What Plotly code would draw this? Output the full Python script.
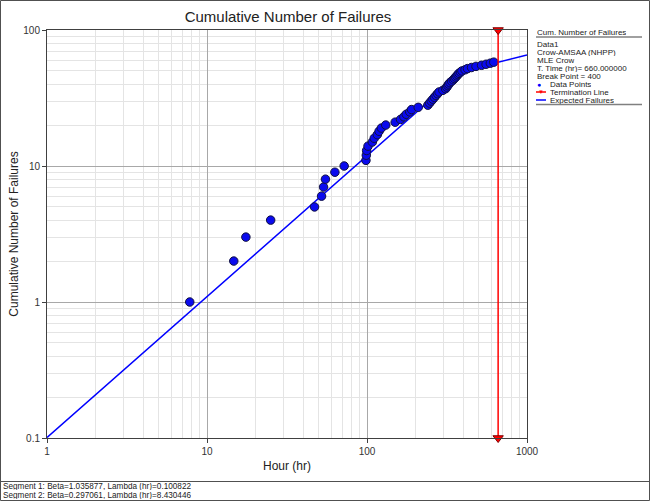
import plotly.graph_objects as go

# ---- data ----
fail_times = [7.8, 14.7, 17.5, 25, 47, 52, 53.5, 55, 63, 72,
              98.5, 99, 99.5, 101.5, 108, 111, 116, 119, 123, 131,
              150, 162, 170, 176, 185, 190, 209, 240, 246, 252,
              258, 264, 270, 276, 282, 298, 310, 315, 320, 324,
              330, 338, 346, 352, 358, 364, 370, 376, 384, 392,
              410, 425, 450, 480, 520, 555, 590, 620]
cum_failures = list(range(1, len(fail_times) + 1))

seg1_beta, seg1_lambda = 1.035877, 0.100822
seg2_beta, seg2_lambda = 0.297061, 8.430446
break_point = 400
line_times = [1, 400, 1000]
term_time = 660
y_range = [0.1, 100]

expected = [seg1_lambda * t ** seg1_beta if t <= break_point else seg2_lambda * t ** seg2_beta
            for t in line_times]

FONT = "Liberation Sans"
W, H = 650, 501
L, R, T, B = 47, 527, 30, 438

def px(x):
    return (x - L) / (R - L)

def py(y):
    return (B - y) / (B - T)

fig = go.Figure()
fig.add_trace(go.Scatter(x=line_times, y=expected, mode="lines",
                         line=dict(color="#0000ff", width=1.5), showlegend=False))
fig.add_trace(go.Scatter(x=fail_times, y=cum_failures, mode="markers",
                         marker=dict(color="#0a0aee", size=8.5, line=dict(color="#101040", width=1)),
                         showlegend=False))
fig.add_trace(go.Scatter(x=[term_time, term_time], y=y_range, mode="lines+markers",
                         line=dict(color="#ff0000", width=1.5),
                         marker=dict(symbol="triangle-down", size=9, color="#ff0000",
                                     line=dict(color="#800000", width=1)),
                         cliponaxis=False, showlegend=False))

axis_common = dict(type="log", showline=True, linecolor="#404040", linewidth=1, mirror=True,
                   ticks="outside", ticklen=4, tickcolor="#404040",
                   showgrid=True, gridcolor="#a8a8a8", gridwidth=1,
                   minor=dict(showgrid=True, gridcolor="#e4e4e4", dtick="D1", ticks=""),
                   tickfont=dict(family=FONT, size=10, color="#333333"),
                   zeroline=False, dtick=1, automargin=False)

fig.update_xaxes(range=[0, 3], title=dict(text="Hour (hr)", font=dict(family=FONT, size=12, color="#222"),
                                          standoff=5), **axis_common)
fig.update_yaxes(range=[-1, 2], title=dict(text="Cumulative Number of Failures",
                                           font=dict(family=FONT, size=12, color="#222"), standoff=2),
                 **axis_common)

shapes = []
shapes.append(dict(type="rect", xref="paper", yref="paper", x0=px(0.5), x1=px(649.5), y0=py(500.5), y1=py(0.5),
                   line=dict(color="#505050", width=1)))
shapes.append(dict(type="line", xref="paper", yref="paper", x0=px(0), x1=px(650), y0=py(481.5), y1=py(481.5),
                   line=dict(color="#505050", width=1)))
shapes.append(dict(type="line", xref="paper", yref="paper", x0=px(536), x1=px(642), y0=py(37), y1=py(37),
                   line=dict(color="#808080", width=1.5)))
shapes.append(dict(type="line", xref="paper", yref="paper", x0=px(536), x1=px(642), y0=py(104.5), y1=py(104.5),
                   line=dict(color="#808080", width=1.5)))
shapes.append(dict(type="line", xref="paper", yref="paper", x0=px(536), x1=px(546), y0=py(92), y1=py(92),
                   line=dict(color="#ff0000", width=1.5)))
shapes.append(dict(type="line", xref="paper", yref="paper", x0=px(536), x1=px(546), y0=py(100), y1=py(100),
                   line=dict(color="#0000ff", width=1.5)))

annotations = []
def txt(x, y, s, size=8, color="#222", anchor="left", h=8):
    annotations.append(dict(xref="paper", yref="paper", x=px(x), y=py(y), text=s, showarrow=False,
                            xanchor=anchor, yanchor="middle", height=h, borderpad=0,
                            font=dict(family=FONT, size=size, color=color)))

txt(536, 32.5, "Cum. Number of Failures")
legend_lines = ["Data1", "Crow-AMSAA (NHPP)", "MLE Crow", "T. Time (hr)= 660.000000", "Break Point = 400"]
for i, s in enumerate(legend_lines):
    txt(536, 44 + i * 8, s)
txt(549, 84, "Data Points")
txt(549, 92, "Termination Line")
txt(549, 100, "Expected Failures")
txt(538.5, 84, "●", size=7, color="#0000ff", anchor="center")
txt(541, 92, "▼", size=6, color="#ff0000", anchor="center")
txt(2, 486, "Segment 1: Beta=1.035877, Lambda (hr)=0.100822", size=8.2, h=7)
txt(2, 495, "Segment 2: Beta=0.297061, Lambda (hr)=8.430446", size=8.2, h=7)

fig.update_layout(width=W, height=H, margin=dict(l=L, r=W - R, t=T, b=H - B, autoexpand=False),
                  paper_bgcolor="white", plot_bgcolor="white",
                  title=dict(text="Cumulative Number of Failures", x=px(288), xref="paper", xanchor="center",
                             y=1 - 17 / H, yanchor="middle", font=dict(family=FONT, size=15, color="#222")),
                  shapes=shapes, annotations=annotations, showlegend=False)

fig.write_html("out.html", config={"displayModeBar": False},
               post_script="document.body.style.margin='0';document.body.style.overflow='hidden';")
